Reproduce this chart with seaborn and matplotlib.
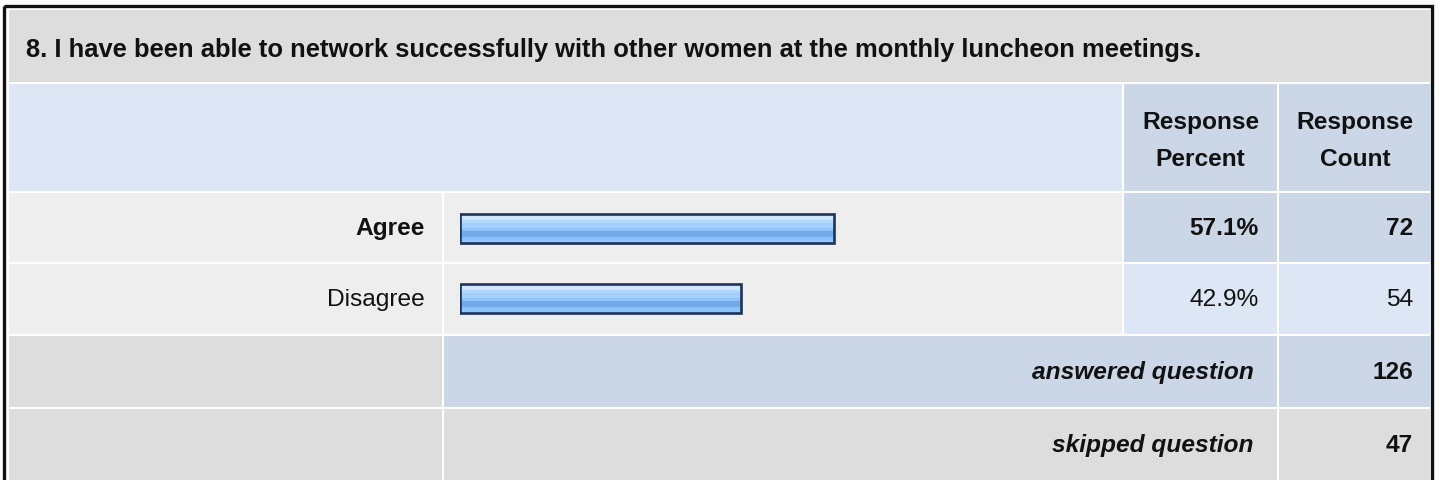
import numpy as np
import pandas as pd
import matplotlib
matplotlib.use('Agg')
import matplotlib.pyplot as plt
from matplotlib.patches import Rectangle
from matplotlib.colors import to_rgb
import seaborn as sns

# data
question = "8. I have been able to network successfully with other women at the monthly luncheon meetings."
choices = ['Agree', 'Disagree']
percents = [57.1, 42.9]
counts = [72, 54]
answered = 126
skipped = 47

sns.set_theme(style='white')
plt.rcParams['font.family'] = ['Liberation Sans', 'DejaVu Sans']

W, H = 1440, 481
FS = 24.5 * 0.72  # text size in px -> pt
TITLE_FS = 25.5 * 0.72
fig = plt.figure(figsize=(14.4, 4.81), dpi=100)
ax = fig.add_axes([0, 0, 1, 1])
ax.set_xlim(0, W)
ax.set_ylim(H, 0)
ax.set_axis_off()

def cell(x0, y0, x1, y1, color):
    ax.add_patch(Rectangle((x0, y0), x1 - x0, y1 - y0, facecolor=color, edgecolor='none'))

GREY = '#dddddd'
ROW = '#eeeeee'
BLUE = '#dce6f4'
BLUE2 = '#cbd7e6'
INK = '#111111'

# column / row edges in pixels
c0, c1, c2, c3, c4 = 9, 442, 444, 1122, 1124
c5, c6, c7 = 1277, 1279, 1431
rows = [(11, 83), (85, 192), (194, 263), (265, 335), (337, 408), (410, 481)]

# outer border
ax.add_patch(Rectangle((4, 7), 1432 - 4, H, facecolor='none', edgecolor=INK, linewidth=2.4))

# title
cell(c0, rows[0][0], c7, rows[0][1], GREY)
ax.text(26, 50, question, fontsize=TITLE_FS, fontweight='bold', va='center', ha='left', color=INK)

# header
y0, y1 = rows[1]
cell(c0, y0, c3, y1, BLUE)
cell(c4, y0, c5, y1, BLUE2)
cell(c6, y0, c7, y1, BLUE2)
for cx, word in [((c4 + c5) / 2, 'Percent'), ((c6 + c7) / 2, 'Count')]:
    ax.text(cx, 123, 'Response', fontsize=FS, fontweight='bold', ha='center', va='center', color=INK)
    ax.text(cx, 160, word, fontsize=FS, fontweight='bold', ha='center', va='center', color=INK)

# choice rows
for i, (name, pct, cnt) in enumerate(zip(choices, percents, counts)):
    y0, y1 = rows[2 + i]
    bold = i == 0
    fill = BLUE2 if bold else BLUE
    cell(c0, y0, c1, y1, ROW)
    cell(c2, y0, c3, y1, ROW)
    cell(c4, y0, c5, y1, fill)
    cell(c6, y0, c7, y1, fill)
    yc = (y0 + y1) / 2
    w = 'bold' if bold else 'normal'
    ax.text(425, yc, name, fontsize=FS, fontweight=w, ha='right', va='center', color=INK)
    ax.text(1259, yc, f'{pct:.1f}%', fontsize=FS, fontweight=w, ha='right', va='center', color=INK)
    ax.text(1413, yc, str(cnt), fontsize=FS, fontweight=w, ha='right', va='center', color=INK)

# answered / skipped
for k, (label, val, fill) in enumerate([('answered question', answered, BLUE2),
                                         ('skipped question', skipped, GREY)]):
    y0, y1 = rows[4 + k]
    yc = (y0 + y1) / 2
    cell(c0, y0, c1, y1, GREY)
    cell(c2, y0, c5, y1, fill)
    cell(c6, y0, c7, y1, fill)
    ax.text(1254, yc, label, fontsize=FS, fontweight='bold', fontstyle='italic',
            ha='right', va='center', color=INK)
    ax.text(1413, yc, str(val), fontsize=FS, fontweight='bold', ha='right', va='center', color=INK)

# bars
bx0, bx1 = 460, 1115
by0, by1 = rows[2][0], rows[3][1]
bar_ax = fig.add_axes([bx0 / W, 1 - by1 / H, (bx1 - bx0) / W, (by1 - by0) / H])
df = pd.DataFrame({'choice': choices, 'percent': percents})
sns.barplot(data=df, x='percent', y='choice', orient='h', ax=bar_ax, width=0.41,
            color='#8fc1f8', edgecolor='#1d3358', linewidth=1.9, errorbar=None)

# striped glossy fill, top to bottom
stops = ['#cfe6ff', '#cfe6ff', '#b2d7ff', '#a3cefd', '#a3cefd', '#90c3f9',
         '#73a9e9', '#73a9e9', '#8ac1fa', '#90c6fd']
grad = np.array([to_rgb(c) for c in stops]).reshape(-1, 1, 3)
for p in bar_ax.patches:
    x, y, w, h = p.get_x(), p.get_y(), p.get_width(), p.get_height()
    bar_ax.imshow(grad, extent=[x, x + w, y + h, y], aspect='auto', origin='upper',
                  interpolation='nearest', zorder=1)
    p.set_facecolor('none')
    p.set_zorder(3)

bar_ax.set_xlim(0, 100)
bar_ax.set_ylim(1.5, -0.5)
bar_ax.set_axis_off()

fig.savefig('out.png', dpi=100)
